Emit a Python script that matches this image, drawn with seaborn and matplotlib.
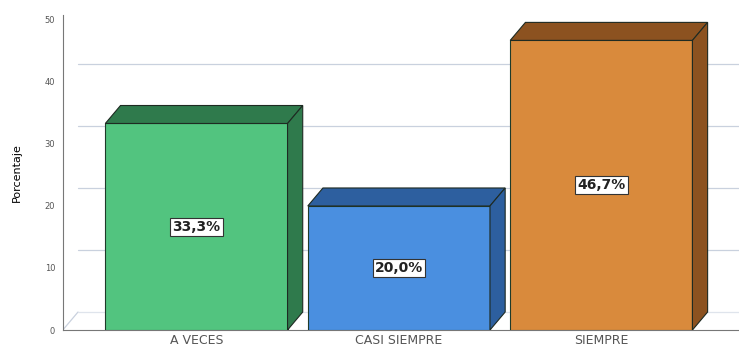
import matplotlib
matplotlib.use('Agg')
import matplotlib.pyplot as plt
from matplotlib.patches import Polygon
import seaborn as sns

# datos
categorias = ['A VECES', 'CASI SIEMPRE', 'SIEMPRE']
porcentajes = [33.3, 20.0, 46.7]
etiquetas = ['33,3%', '20,0%', '46,7%']
color_frente = ['#52c47f', '#4a8fe0', '#d98a3c']
color_lado = ['#2f7a4c', '#2d5f9f', '#8c5220']

sns.set_style('white')
plt.rcParams['font.family'] = ['DejaVu Sans']

fig = plt.figure(figsize=(7.39, 3.56), dpi=100)
ax = fig.add_axes([0.085, 0.073, 0.915, 0.885])

sns.barplot(x=categorias, y=porcentajes, hue=categorias, palette=color_frente,
            saturation=1, width=0.9, edgecolor='#1f3b2a', linewidth=0.8,
            legend=False, ax=ax, zorder=3)

# profundidad 3D (en unidades de datos)
dx, dy = 0.075, 2.9
xmin, xmax = -0.66, 2.68
ax.set_xlim(xmin, xmax)
ax.set_ylim(0, 50.8)

# pared del fondo: lineas de cuadricula desplazadas
for v in [10, 20, 30, 40]:
    ax.plot([xmin + dx, xmax], [v + dy, v + dy], color='#c9d1de', lw=0.9, zorder=1)
ax.plot([xmin, xmin + dx], [0, dy], color='#c9d1de', lw=0.9, zorder=1)
ax.plot([xmin + dx, xmax], [dy, dy], color='#dfe4ec', lw=0.9, zorder=1)

for p, lado, txt in zip(ax.patches, color_lado, etiquetas):
    x0 = p.get_x()
    w = p.get_width()
    h = p.get_height()
    x1 = x0 + w
    top = Polygon([[x0, h], [x0 + dx, h + dy], [x1 + dx, h + dy], [x1, h]],
                  closed=True, facecolor=lado, edgecolor='#1e2a22', lw=0.8, zorder=3)
    side = Polygon([[x1, 0], [x1 + dx, dy], [x1 + dx, h + dy], [x1, h]],
                   closed=True, facecolor=lado, edgecolor='#1e2a22', lw=0.8, zorder=3)
    ax.add_patch(top)
    ax.add_patch(side)
    ax.text(x0 + w / 2, h / 2, txt, ha='center', va='center', fontsize=10,
            fontweight='bold', color='#222222', zorder=5,
            bbox=dict(boxstyle='square,pad=0.15', facecolor='white',
                      edgecolor='#333333', lw=0.8))

ax.set_yticks([0, 10, 20, 30, 40, 50])
ax.tick_params(axis='y', labelsize=6, colors='#555555', length=2)
ax.tick_params(axis='x', labelsize=9, colors='#555555', length=0, pad=3)
ax.set_ylabel('Porcentaje', fontsize=8, color='black', labelpad=16)
ax.set_xlabel('')
for s in ['top', 'right']:
    ax.spines[s].set_visible(False)
ax.spines['left'].set_color('#777777')
ax.spines['bottom'].set_color('#777777')

fig.savefig('out.png', dpi=100)
